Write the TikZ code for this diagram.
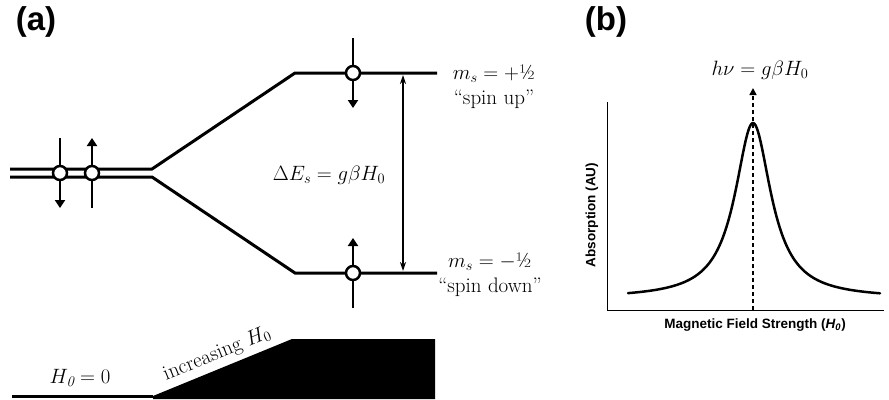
\documentclass[tikz,border=0pt]{standalone}
\usepackage{fontspec}
\newfontfamily\arialfont{Liberation Sans}
\usetikzlibrary{arrows.meta,positioning}

\begin{document}
\begin{tikzpicture}[
  x=1pt, y=-1pt,
  level/.style={line width=3pt},
  spin/.style={circle, draw, line width=2.5pt, fill=white,
    minimum size=14pt, inner sep=0pt},
  spinarrow/.style={-{Triangle[length=8pt,width=10pt]}, line width=2.5pt},
  gap/.style={{Stealth[length=9pt,width=6pt]}-{Stealth[length=9pt,width=6pt]},
    line width=1.5pt},
  lbl/.style={font=\fontsize{21}{25}\selectfont, align=center, inner sep=1pt},
  panel/.style={font=\arialfont\bfseries\fontsize{33}{36}\selectfont},
  axis/.style={line width=1pt},
  axislbl/.style={font=\arialfont\bfseries\fontsize{13.5}{16}\selectfont},
]
\useasboundingbox (0,0) rectangle (889,399);

% ---- Panel labels ----
\node[panel] (pa) at (36,22) {(a)};
\node[panel] (pb) at (606,22) {(b)};

% ---- Energy levels ----
\coordinate (L1w) at (10,169);
\coordinate (L1e) at (152,169);
\coordinate (L2w) at (10,177);
\coordinate (L2e) at (152,177);
\coordinate (upw) at (295,73);
\coordinate (upe) at (437,73);
\coordinate (dnw) at (295,273);
\coordinate (dne) at (437,273);
\draw[level] (L1w) -- (L1e) -- (upw) -- (upe);
\draw[level] (L2w) -- (L2e) -- (dnw) -- (dne);

% ---- Spins ----
\coordinate (c1) at (60,173);
\coordinate (c2) at (92,173);
\coordinate (c3) at (353,73);
\coordinate (c4) at (353,273);
\draw[spinarrow] ([yshift=35pt]c1) -- ([yshift=-35pt]c1);
\draw[spinarrow] ([yshift=-35pt]c2) -- ([yshift=35pt]c2);
\draw[spinarrow] ([yshift=35pt]c3) -- ([yshift=-35pt]c3);
\draw[spinarrow] ([yshift=-35pt]c4) -- ([yshift=35pt]c4);
\node[spin] (s1) at (c1) {};
\node[spin] (s2) at (c2) {};
\node[spin] (s3) at (c3) {};
\node[spin] (s4) at (c4) {};

% ---- Splitting ----
\coordinate (gapt) at (403,73);
\coordinate (gapb) at (403,273);
\draw[gap, shorten <=2pt, shorten >=2pt] (gapt) -- (gapb);
\node[lbl] (dE) at (329,175) {$\Delta E_s = g\beta H_0$};
\node[lbl] (msup) at (494,87) {$m_s = +$\textonehalf\\“spin up”};
\node[lbl] (msdn) at (490,275) {$m_s = -$\textonehalf\\“spin down”};

% ---- Field ramp ----
\coordinate (b0) at (12,396);
\coordinate (b1) at (153,396);
\coordinate (b2) at (292,339);
\coordinate (b3) at (435,339);
\coordinate (b4) at (435,399);
\coordinate (b5) at (153,399);
\draw[level] (b0) -- (b1);
\fill (b5) -- (b1) -- (b2) -- (b3) -- (b4) -- cycle;
\node[lbl] (h0) at (80,378) {$H_{\mathit{0}} = 0$};
\path (b1) -- (b2) node[lbl, midway, sloped, above=4pt] (inc) {increasing $H_0$};

% ---- Spectrum (b) ----
\coordinate (org) at (607,310);
\coordinate (ytop) at (607,102);
\coordinate (xend) at (884,310);
\draw[axis] (ytop) -- (org) -- (xend);
\draw[line width=2.5pt, line cap=round]
  plot[domain=628:880, samples=240] (\x, {298.4 - 175.4/(1+((\x-753)/22)^2)});
\coordinate (pk) at (753,310);
\coordinate (pktop) at (753,88);
\draw[line width=1.5pt, dash pattern=on 4pt off 3pt,
  -{Triangle[length=7pt,width=7pt]}] (pk) -- (pktop);
\node[lbl] (res) at (760,70) {$h\nu = g\beta H_0$};
\node[axislbl, rotate=90] (ylab) at (592,215) {Absorption (AU)};
\node[axislbl] (xlab) at (755,325)
  {Magnetic Field Strength (\textit{H}\textsubscript{\textit{0}})};
\end{tikzpicture}
\end{document}
